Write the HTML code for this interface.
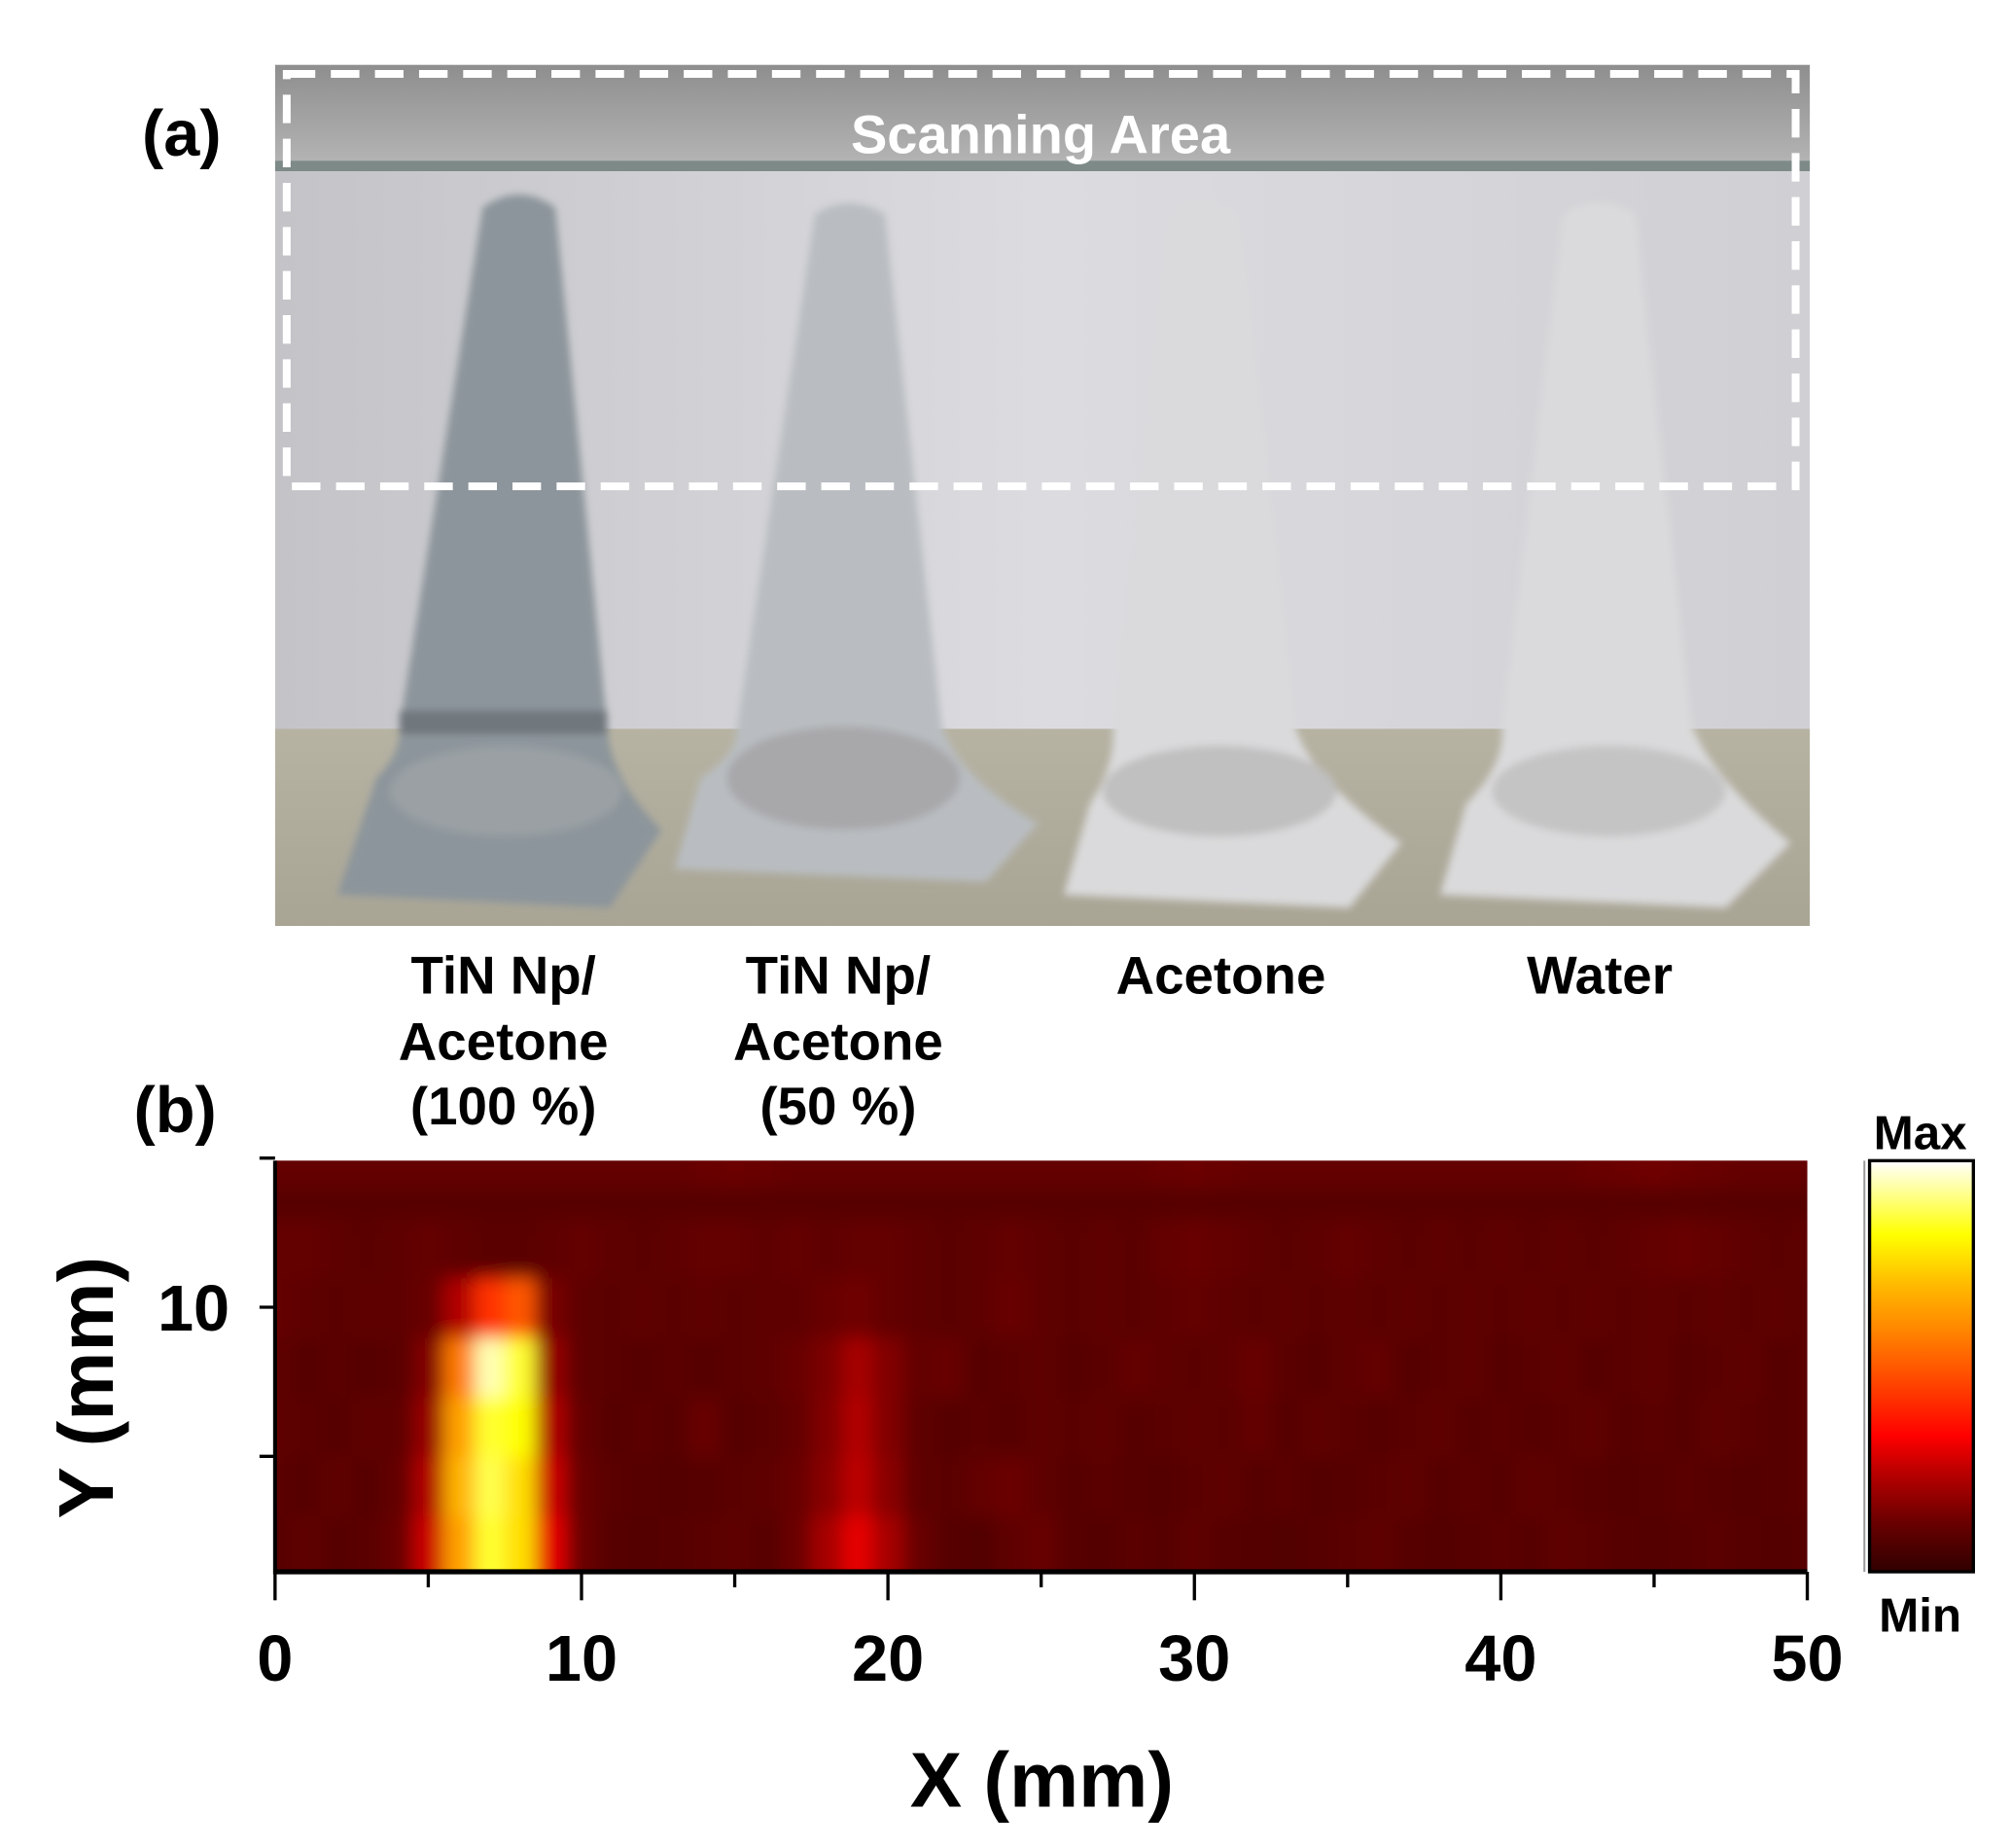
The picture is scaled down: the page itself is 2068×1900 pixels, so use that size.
<!DOCTYPE html>
<html><head><meta charset="utf-8"><style>
html,body{margin:0;padding:0;background:#fff}
svg{display:block}
text{font-family:"Liberation Sans",sans-serif;font-weight:bold;fill:#000}
</style></head><body>
<svg id="fig" width="2068" height="1900" viewBox="0 0 1550 1425" preserveAspectRatio="none" xmlns="http://www.w3.org/2000/svg">
<defs>
<linearGradient id="topband" x1="0" y1="0" x2="0" y2="1"><stop offset="0" stop-color="#8e8e8e"/><stop offset="1" stop-color="#b4b4b4"/></linearGradient>
<linearGradient id="wall" x1="0" y1="0" x2="1" y2="0"><stop offset="0" stop-color="#c4c4c8"/><stop offset="0.5" stop-color="#dcdce0"/><stop offset="1" stop-color="#d0d0d4"/></linearGradient>
<linearGradient id="floor" x1="0" y1="0" x2="0" y2="1"><stop offset="0" stop-color="#b7b3a3"/><stop offset="1" stop-color="#a9a595"/></linearGradient>
<linearGradient id="cbar" x1="0" y1="1" x2="0" y2="0">
<stop offset="0" stop-color="#300000"/><stop offset="0.12" stop-color="#6a0000"/><stop offset="0.25" stop-color="#c00000"/><stop offset="0.33" stop-color="#ff0000"/><stop offset="0.45" stop-color="#ff4000"/><stop offset="0.6" stop-color="#ff8c00"/><stop offset="0.7" stop-color="#ffbb00"/><stop offset="0.82" stop-color="#ffff00"/><stop offset="1" stop-color="#ffffff"/></linearGradient>
<filter id="blur" x="-5%" y="-10%" width="110%" height="120%"><feGaussianBlur stdDeviation="7"/></filter>
<filter id="pblur"><feGaussianBlur stdDeviation="3"/></filter>
<clipPath id="plotclip"><rect x="212" y="895" width="1181" height="317"/></clipPath>
<clipPath id="photoclip"><rect x="212" y="50" width="1183" height="664"/></clipPath>
</defs>

<g clip-path="url(#photoclip)">
<rect x="212" y="50" width="1183" height="664" fill="url(#wall)"/>
<rect x="212" y="50" width="1183" height="76" fill="url(#topband)"/>
<rect x="212" y="124" width="1183" height="8" fill="#7d8a88"/>
<rect x="212" y="562" width="1183" height="152" fill="url(#floor)"/>
<g filter="url(#pblur)">
<path d="M372,160 Q400,140 428,160 L468,560 Q470,600 510,640 L470,700 L260,690 L290,600 Q310,580 308,560 Z" fill="#8c959b"/>
<path d="M628,165 Q655,148 682,165 L726,560 Q740,600 800,635 L760,680 L520,670 L540,600 Q570,580 568,560 Z" fill="#b9bdc1"/>
<path d="M902,165 Q928,148 954,165 L998,560 Q1010,600 1080,650 L1040,700 L820,690 L840,620 Q860,590 858,560 Z" fill="#dadadc"/>
<path d="M1205,165 Q1232,148 1260,165 L1304,560 Q1320,600 1380,650 L1330,700 L1110,690 L1130,620 Q1160,590 1158,560 Z" fill="#dadadc"/>
<ellipse cx="390" cy="610" rx="90" ry="35" fill="#9aa0a4"/>
<ellipse cx="650" cy="600" rx="90" ry="40" fill="#a8a8aa"/>
<ellipse cx="940" cy="610" rx="90" ry="35" fill="#c0c0c0"/>
<ellipse cx="1240" cy="610" rx="90" ry="35" fill="#c4c4c4"/>
<rect x="308" y="548" width="160" height="18" fill="#6f777d"/>
</g>
<rect x="221" y="57" width="1163" height="318" fill="none" stroke="#ffffff" stroke-width="6" stroke-dasharray="22,12"/>
<text x="802" y="118" text-anchor="middle" font-size="42" style="fill:#fff">Scanning Area</text>
</g>
<text x="140" y="120" text-anchor="middle" font-size="50">(a)</text>
<text x="135" y="873" text-anchor="middle" font-size="50">(b)</text>
<g font-size="41">
<text text-anchor="middle"><tspan x="388" y="766">TiN Np/</tspan><tspan x="388" y="817">Acetone</tspan><tspan x="388" y="867">(100 %)</tspan></text>
<text text-anchor="middle"><tspan x="646" y="766">TiN Np/</tspan><tspan x="646" y="817">Acetone</tspan><tspan x="646" y="867">(50 %)</tspan></text>
<text x="941" y="766" text-anchor="middle">Acetone</text>
<text x="1233" y="766" text-anchor="middle">Water</text>
</g>

<g id="heat" clip-path="url(#plotclip)"><rect x="200" y="880" width="1210" height="350" fill="#560000"/><g id="cells" filter="url(#blur)"></g></g>
<g id="axes"></g>

<rect x="1441" y="895" width="80" height="317" fill="url(#cbar)" stroke="#000" stroke-width="2.5"/>
<line x1="1437" y1="895" x2="1437" y2="1212" stroke="#999" stroke-width="1.5"/>
<text x="1480" y="886" text-anchor="middle" font-size="37">Max</text>
<text x="1480" y="1258" text-anchor="middle" font-size="37">Min</text>
<text x="803" y="1393" text-anchor="middle" font-size="60">X (mm)</text>
<text transform="translate(87,1070) rotate(-90)" text-anchor="middle" font-size="60">Y (mm)</text>
</svg>
<script>
const xCoords = [];
for (let i = 0; i <= 50; i++) xCoords.push(i);
const yCoords = [2, 4, 6, 8, 10, 12, 14];
const xTickLabels = ["0","10","20","30","40","50"];
const xTickValues = [0,10,20,30,40,50];
const yTickValues = [5,10,15];
const yTickLabels = ["","10",""];
const row2  = [20,22,20,21,24,45,75,92,85,50, 25,20,19,20,21,22,20,25,38,50, 38,24,20,18,22,24,20,19,21,20, 22,20,19,18,20,21,22,20,19,20, 21,20,22,21,20,19,20,21,20,19, 20];
const row4  = [21,20,22,20,23,40,78,93,85,45, 24,21,20,19,20,21,22,24,32,42, 32,22,21,23,25,22,20,21,20,19, 21,22,20,21,19,20,21,22,20,21, 20,22,21,20,19,20,21,20,19,20, 21];
const row6  = [22,21,20,22,22,35,75,92,90,40, 23,20,21,20,24,20,21,23,30,40, 30,22,20,21,20,22,21,22,20,21, 22,21,23,20,22,21,20,21,22,20, 21,20,21,22,20,21,20,22,21,20, 21];
const row8  = [22,20,21,20,21,30,70,97,92,35, 22,21,20,21,20,21,22,24,29,38, 30,23,24,20,21,22,20,21,23,22, 21,22,24,21,20,22,23,20,21,22, 20,21,22,20,21,22,20,21,22,20, 21];
const row10 = [23,22,21,22,22,24,40,60,65,28, 22,21,22,21,22,21,22,22,24,26, 23,22,21,22,24,22,21,22,21,22, 23,22,21,22,21,22,21,22,21,22, 21,22,21,22,21,22,21,22,21,22, 21];
const row12 = [23,23,22,21,22,23,22,21,21,22, 23,22,21,22,23,23,22,23,22,23, 23,22,21,22,23,22,21,22,21,23, 24,23,22,21,22,23,22,21,22,21, 22,21,22,21,22,23,24,23,22,21, 22];
const row14 = [23,23,23,23,23,23,23,23,23,23, 23,23,23,23,24,25,24,23,23,23, 23,23,23,23,23,23,23,23,23,24, 25,24,23,23,23,23,23,23,23,23, 23,23,23,24,25,26,25,24,23,23, 23];
const rows = [row2,row4,row6,row8,row10,row12,row14];

const NS = "http://www.w3.org/2000/svg";
const X0 = 212, X1 = 1393;
function xScale(v){ return X0 + (v/50)*(X1-X0); }
function yScale(v){ return 1008 - (v-10)*23; }
const stops = [[0,[48,0,0]],[0.2,[86,0,0]],[0.35,[150,0,0]],[0.5,[230,0,0]],[0.6,[255,50,0]],[0.75,[255,160,0]],[0.9,[255,255,0]],[1,[255,255,255]]];
function cmap(v){
  v = Math.max(0, Math.min(1, v));
  for (let i = 1; i < stops.length; i++) {
    if (v <= stops[i][0]) {
      const a = stops[i-1], b = stops[i], t = (v-a[0])/(b[0]-a[0]);
      const c = a[1].map((q,k)=>Math.round(q+(b[1][k]-q)*t));
      return "rgb("+c.join(",")+")";
    }
  }
  return "#fff";
}
const cells = document.getElementById("cells");
const cw = xScale(1)-xScale(0), ch = 23*2;
rows.forEach((row, r) => {
  const yc = yScale(yCoords[r]);
  const top = r === rows.length-1 ? yc - ch*1.5 : yc - ch/2;
  const h = (r === 0 || r === rows.length-1) ? ch*1.5 : ch;
  row.forEach((val, c) => {
    const xc = xScale(xCoords[c]);
    const el = document.createElementNS(NS, "rect");
    
    
    const w = (c === 0 || c === row.length-1) ? cw*2 : cw;
    el.setAttribute("x", c === 0 ? xc - cw*1.5 : xc - cw/2);
    el.setAttribute("y", r === 0 ? yc - ch/2 : top);
    el.setAttribute("width", w + 0.5);
    el.setAttribute("height", h + 0.5);
    el.setAttribute("fill", cmap(val/100));
    cells.appendChild(el);
  });
});
const axes = document.getElementById("axes");
function line(x1,y1,x2,y2,w,name){
  const l = document.createElementNS(NS,"line");
  
  
  l.setAttribute("x1",x1);l.setAttribute("y1",y1);l.setAttribute("x2",x2);l.setAttribute("y2",y2);
  l.setAttribute("stroke","#000");l.setAttribute("stroke-width",w);
  axes.appendChild(l);
}
line(212,1212,1393,1212,4,'x-axis-line');
line(212,895,212,1214,3,'y-axis-line');
for (let m = 0; m <= 50; m += 5) {
  const major = m % 10 === 0;
  line(xScale(m),1212,xScale(m),1212+(major?22:12),2.5,'x-tick');
}
xTickValues.forEach((v,i)=>{
  const t = document.createElementNS(NS,"text");
  
  
  t.setAttribute("x",xScale(v));t.setAttribute("y",1296);
  t.setAttribute("text-anchor","middle");t.setAttribute("font-size","50");
  t.textContent = xTickLabels[i];
  axes.appendChild(t);
});
yTickValues.forEach((v,i)=>{
  line(200,yScale(v),212,yScale(v),2.5,'y-tick');
  if (yTickLabels[i]) {
    const t = document.createElementNS(NS,"text");
    
    
    t.setAttribute("x",177);t.setAttribute("y",yScale(v)+18);
    t.setAttribute("text-anchor","end");t.setAttribute("font-size","50");
    t.textContent = yTickLabels[i];
    axes.appendChild(t);
  }
});
</script>
</body></html>
